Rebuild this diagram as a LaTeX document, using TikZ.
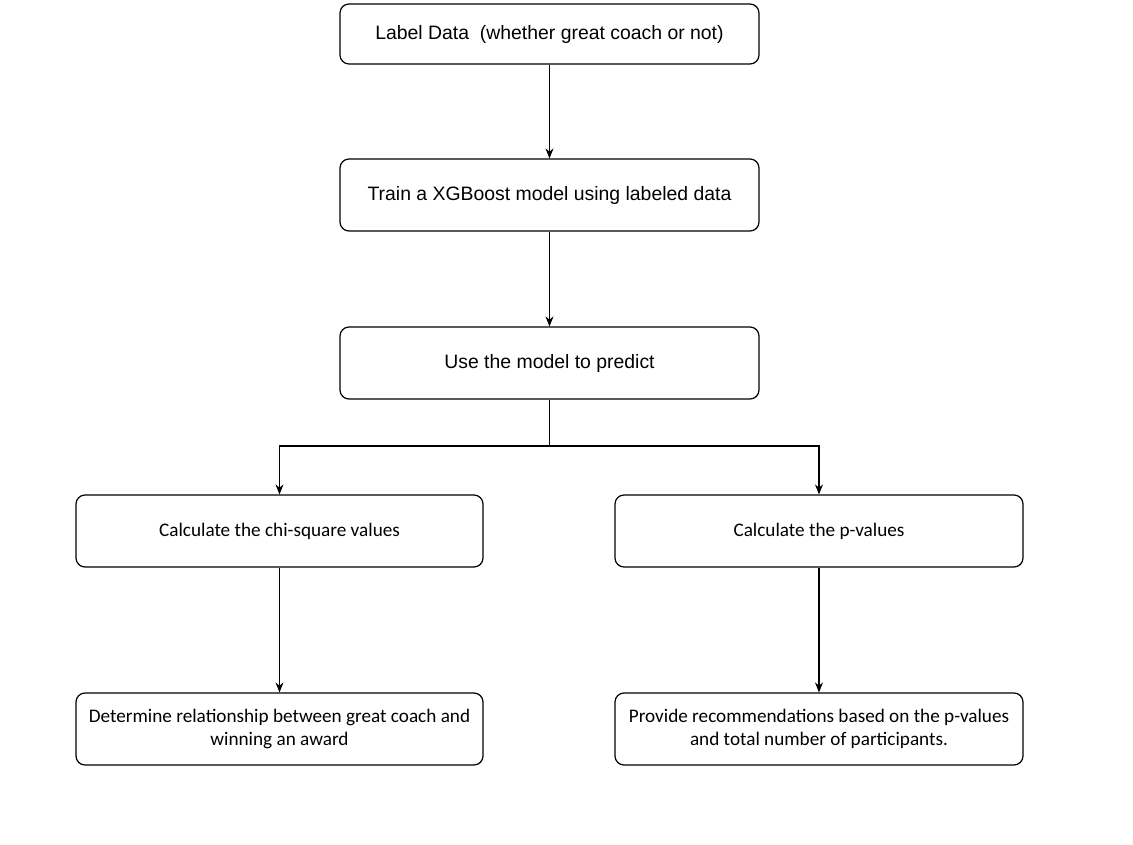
\documentclass[tikz,border=0pt]{standalone}
\usepackage{fontspec}
\setmainfont{Liberation Sans}
\newfontfamily\calfont{Carlito}
\usetikzlibrary{arrows.meta}
\begin{document}
\begin{tikzpicture}[x=1pt,y=-1pt,
  box/.style={draw, line width=1.2pt, rounded corners=9pt, minimum width=419pt, minimum height=72pt, inner sep=0pt, align=center},
  topfont/.style={font=\fontsize{19.4}{23}\selectfont},
  botfont/.style={font=\calfont\fontsize{19.2}{23}\selectfont},
  conn/.style={draw, line width=1.2pt, -{Stealth[length=10pt,width=8pt]}}]
\useasboundingbox[fill=white] (0,0) rectangle (1133,845);
\node[box, topfont, minimum height=60pt] (b1) at (549.5,34) {Label Data\ \ (whether great coach or not)};
\node[box, topfont] (b2) at (549.5,195) {Train a XGBoost model using labeled data};
\node[box, topfont] (b3) at (549.5,363) {Use the model to predict};
\node[box, botfont, minimum width=407pt] (b4) at (279.5,531) {Calculate the chi-square values};
\node[box, botfont, minimum width=408pt] (b5) at (819,531) {Calculate the p-values};
\node[box, botfont, minimum width=407pt] (b6) at (279.5,729) {Determine relationship between great coach and\\winning an award};
\node[box, botfont, minimum width=408pt] (b7) at (819,729) {Provide recommendations based on the p-values\\and total number of participants.};
\coordinate (split) at (549.5,446);
\draw[conn] (b1) -- (b2);
\draw[conn] (b2) -- (b3);
\draw[conn] (b3.south) -- (split) -| (b4.north);
\draw[conn] (split) -| (b5.north);
\draw[conn] (b4) -- (b6);
\draw[conn] (b5) -- (b7);
\end{tikzpicture}
\end{document}
